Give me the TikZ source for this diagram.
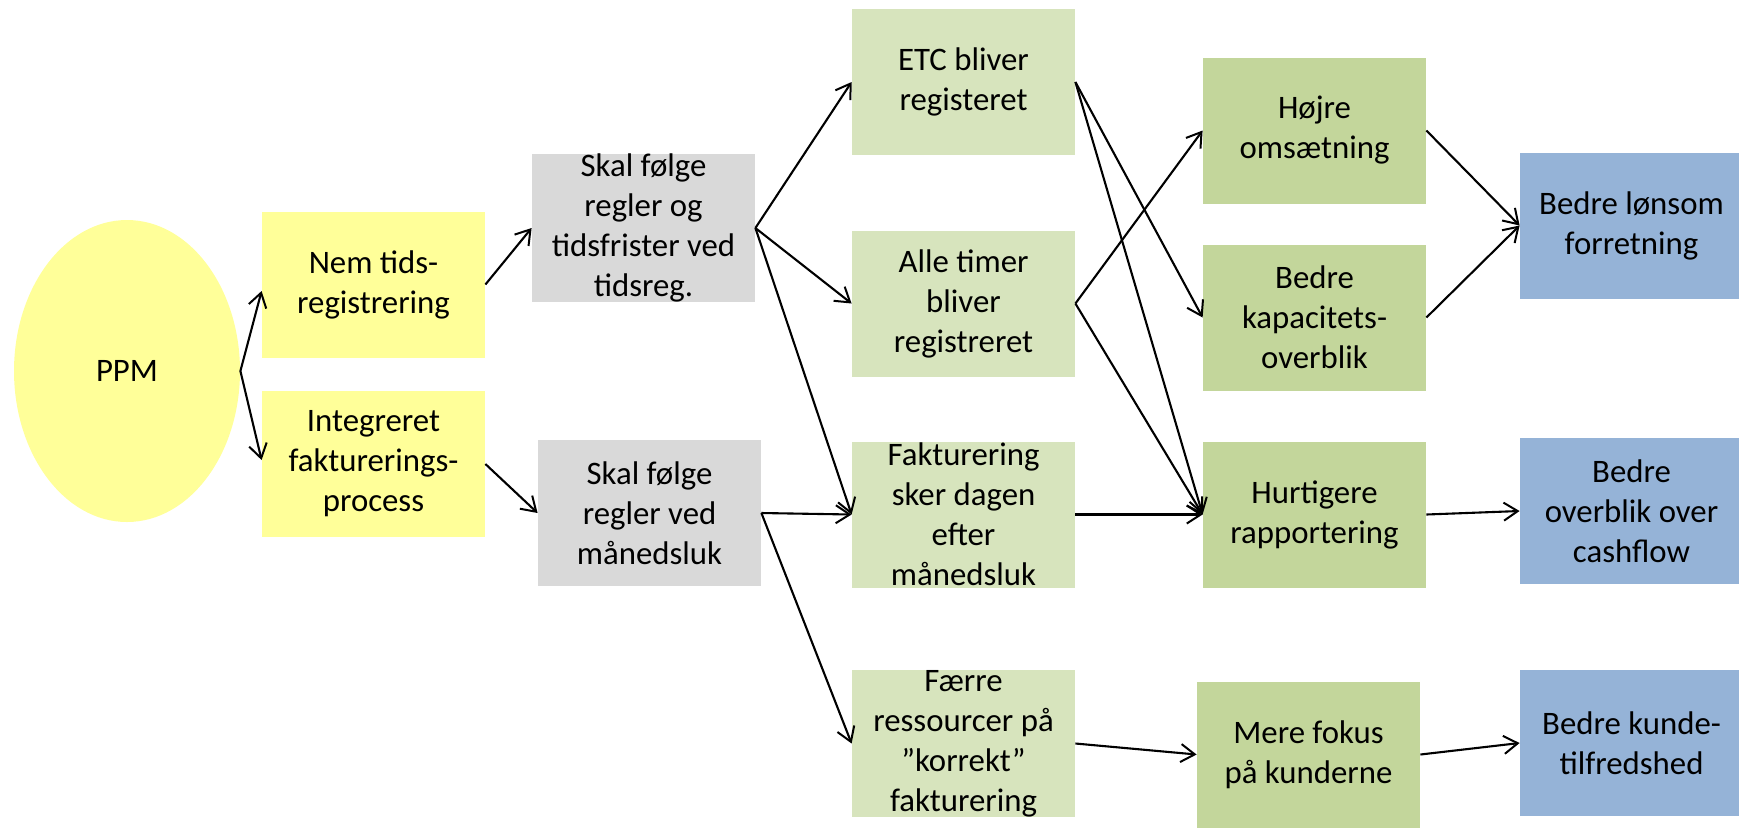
\documentclass[tikz,border=0pt]{standalone}
\usepackage{fontspec}
\setmainfont{Carlito}
\usetikzlibrary{arrows.meta,shapes.geometric}
\definecolor{cyellow}{HTML}{FFFF99}
\definecolor{cgrey}{HTML}{D9D9D9}
\definecolor{clgreen}{HTML}{D7E4BD}
\definecolor{cmgreen}{HTML}{C3D69B}
\definecolor{cblue}{HTML}{95B3D7}
\tikzset{
  box/.style={rectangle, minimum width=111.5pt, minimum height=73pt, inner sep=0pt,
    align=center, font=\fontsize{16.4}{20}\selectfont},
  ybox/.style={box, fill=cyellow},
  gbox/.style={box, fill=cgrey},
  lgbox/.style={box, fill=clgreen},
  mgbox/.style={box, fill=cmgreen},
  bbox/.style={box, fill=cblue},
  arr/.style={line width=1.05pt, -{Straight Barb[length=7pt,width=9pt,line width=1pt]}}
}
\begin{document}
\begin{tikzpicture}[x=0.5pt,y=-0.5pt]
\useasboundingbox (0,0) rectangle (1739,827);
\node[ellipse, fill=cyellow, minimum width=113pt, minimum height=151pt, inner sep=0pt,
  font=\fontsize{16.4}{20}\selectfont] (ppm) at (127,371) {PPM};
\node[ybox] (nem) at (373.5,284.5) {Nem tids-\\registrering};
\node[ybox] (integ) at (373.5,464) {Integreret\\fakturerings-\\process};
\node[gbox] (skal1) at (643.5,228) {Skal følge\\regler og\\tidsfrister ved\\tidsreg.};
\node[gbox] (skal2) at (649.5,513) {Skal følge\\regler ved\\månedsluk};
\node[lgbox] (etc) at (963.5,82) {ETC bliver\\registeret};
\node[lgbox] (alle) at (963.5,303.5) {Alle timer\\bliver\\registreret};
\node[lgbox] (fakt) at (963.5,514.5) {Fakturering\\sker dagen\\efter\\månedsluk};
\node[lgbox] (faerre) at (963.5,743.5) {Færre\\ressourcer på\\”korrekt”\\fakturering};
\node[mgbox] (hojre) at (1314.5,130.5) {Højre\\omsætning};
\node[mgbox] (kap) at (1314.5,317.5) {Bedre\\kapacitets-\\overblik};
\node[mgbox] (hurt) at (1314.5,514.5) {Hurtigere\\rapportering};
\node[mgbox] (mere) at (1308.5,754.5) {Mere fokus\\på kunderne};
\node[bbox] (lon) at (1631.5,225.5) {Bedre lønsom\\forretning};
\node[bbox] (overb) at (1631.5,511) {Bedre\\overblik over\\cashflow};
\node[bbox] (kunde) at (1631.5,743) {Bedre kunde-\\tilfredshed};
\draw[arr] (ppm.east) -- ([yshift=-3.25pt]nem.west);
\draw[arr] (ppm.east) -- ([yshift=2pt]integ.west);
\draw[arr] (nem.east) -- (skal1.west);
\draw[arr] (integ.east) -- (skal2.west);
\draw[arr] (skal1.east) -- (etc.west);
\draw[arr] (skal1.east) -- (alle.west);
\draw[arr] (skal1.east) -- (fakt.west);
\draw[arr] (skal2.east) -- (fakt.west);
\draw[arr] (skal2.east) -- (faerre.west);
\draw[arr] (etc.east) -- (kap.west);
\draw[arr] (etc.east) -- (hurt.west);
\draw[arr] (alle.east) -- (hojre.west);
\draw[arr] (alle.east) -- (hurt.west);
\draw[arr] (fakt.east) -- (hurt.west);
\draw[arr] (faerre.east) -- (mere.west);
\draw[arr] (hojre.east) -- (lon.west);
\draw[arr] (kap.east) -- (lon.west);
\draw[arr] (hurt.east) -- (overb.west);
\draw[arr] (mere.east) -- (kunde.west);
\end{tikzpicture}
\end{document}
